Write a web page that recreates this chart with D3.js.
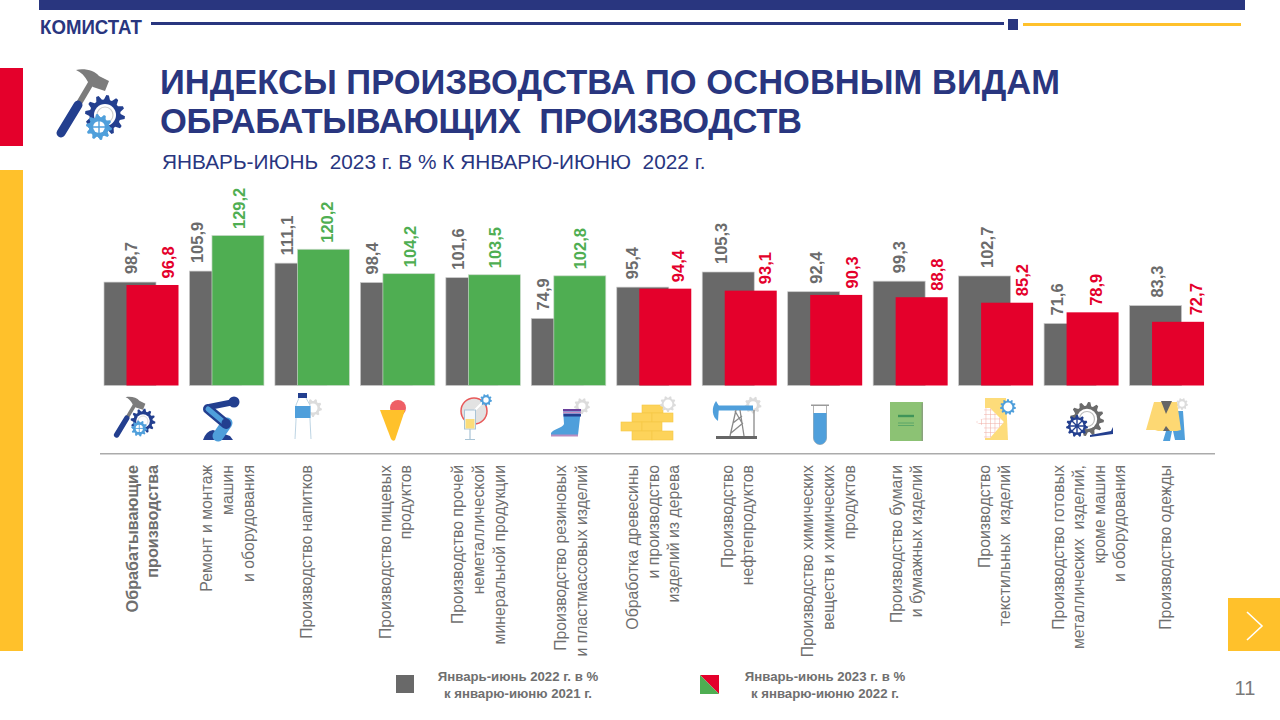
<!DOCTYPE html>
<html>
<head>
<meta charset="utf-8">
<script src="https://cdn.jsdelivr.net/npm/d3@7"></script>
<style>
  html, body { margin: 0; padding: 0; background: #fff; }
  svg { display: block; }
  text { font-family: "Liberation Sans", Arial, sans-serif; white-space: pre; }
</style>
</head>
<body>
<div id="chart"></div>
<script>
// data
var categories = [
  "Обрабатывающие производства", "Ремонт и монтаж машин и оборудования", "Производство напитков",
  "Производство пищевых продуктов", "Производство прочей неметаллической минеральной продукции",
  "Производство резиновых и пластмассовых изделий", "Обработка древесины и производство изделий из дерева",
  "Производство нефтепродуктов", "Производство химических веществ и химических продуктов",
  "Производство бумаги и бумажных изделий", "Производство текстильных изделий",
  "Производство готовых металлических изделий, кроме машин и оборудования", "Производство одежды"
];
var values2022 = [98.7, 105.9, 111.1, 98.4, 101.6, 74.9, 95.4, 105.3, 92.4, 99.3, 102.7, 71.6, 83.3];
var values2023 = [96.8, 129.2, 120.2, 104.2, 103.5, 102.8, 94.4, 93.1, 90.3, 88.8, 85.2, 78.9, 72.7];

var labelLines = [
  ["Обрабатывающие", "производства"],
  ["Ремонт и монтаж", "машин", "и оборудования"],
  ["Производство напитков"],
  ["Производство пищевых", "продуктов"],
  ["Производство прочей", "неметаллической", "минеральной продукции"],
  ["Производство резиновых", "и пластмассовых изделий"],
  ["Обработка древесины", "и производство", "изделий из дерева"],
  ["Производство", "нефтепродуктов"],
  ["Производство химических", "веществ и химических", "продуктов"],
  ["Производство бумаги", "и бумажных изделий"],
  ["Производство", "текстильных  изделий"],
  ["Производство готовых", "металлических  изделий,", "кроме машин", "и оборудования"],
  ["Производство одежды"]
];

var legendLeft = ["Январь-июнь 2022 г. в %", "к январю-июню 2021 г."];
var legendRight = ["Январь-июнь 2023 г. в %", "к январю-июню 2022 г."];

var navy = "#29367f", yellow = "#ffc12b", red = "#e4002b", green = "#4fae52", gray = "#696969", textGray = "#6f6f6f";
var blue = "#4f9fdb", dark = "#233f8f", pale = "#dcdcdc";

var svg = d3.select("#chart").append("svg").attr("width", 1280).attr("height", 720);

function rect(x, y, w, h, fill) {
  return svg.append("rect").attr("x", x).attr("y", y).attr("width", w).attr("height", h).attr("fill", fill);
}

function shape(d, fill) {
  return svg.append("path").attr("d", d).attr("fill", fill);
}

function stroke(d, colour, w, cap) {
  return svg.append("path").attr("d", d).attr("fill", "none").attr("stroke", colour)
    .attr("stroke-width", w).attr("stroke-linecap", cap || "butt");
}

function disc(cx, cy, r, fill) {
  return svg.append("circle").attr("cx", cx).attr("cy", cy).attr("r", r).attr("fill", fill);
}

// slide furniture
rect(39, 0, 1206, 10, navy);
rect(151, 22, 853, 3, navy);
rect(1008, 19, 10, 11, navy);
rect(1023, 23, 218, 3, yellow);
rect(0, 68, 23, 78, red);
rect(0, 170, 23, 481, yellow);
rect(1228, 598, 52, 53, yellow);
stroke("M1247 612 L1262 626 L1247 640", "#fff", 1.6);

svg.append("text").attr("x", 40).attr("y", 33.5).attr("fill", navy)
  .attr("font-weight", "bold").attr("font-size", 21).attr("textLength", 102)
  .attr("lengthAdjust", "spacingAndGlyphs").text("КОМИСТАТ");

svg.append("text").attr("x", 160).attr("y", 94).attr("fill", navy)
  .attr("font-weight", "bold").attr("font-size", 34.5).attr("textLength", 900)
  .text("ИНДЕКСЫ ПРОИЗВОДСТВА ПО ОСНОВНЫМ ВИДАМ");
svg.append("text").attr("x", 160).attr("y", 133).attr("fill", navy)
  .attr("font-weight", "bold").attr("font-size", 34.5).attr("textLength", 642)
  .text("ОБРАБАТЫВАЮЩИХ  ПРОИЗВОДСТВ");
svg.append("text").attr("x", 162).attr("y", 169).attr("fill", navy)
  .attr("font-size", 20.8).text("ЯНВАРЬ-ИЮНЬ  2023 г. В % К ЯНВАРЮ-ИЮНЮ  2022 г.");

svg.append("text").attr("x", 1245).attr("y", 695).attr("text-anchor", "middle")
  .attr("fill", "#7a7a7a").attr("font-size", 20).text("11");

// scales: the value axis of the original does not start at zero
var x = d3.scaleBand().domain(categories).range([104, 1215]);
var y = d3.scaleLinear().domain([31, 129.2]).range([385.5, 235.5]);
var barW = 52, shift = 22.5;

var rows = categories.map(function (c, i) {
  return { name: c, a: values2022[i], b: values2023[i], lines: labelLines[i], i: i };
});

var groups = svg.selectAll("g.cat").data(rows).enter().append("g").attr("class", "cat")
  .attr("transform", function (d) { return "translate(" + x(d.name) + ",0)"; });

groups.append("rect")
  .attr("x", 0).attr("width", barW)
  .attr("y", function (d) { return y(d.a); })
  .attr("height", function (d) { return y.range()[0] - y(d.a); })
  .attr("fill", gray).attr("stroke", "#c9c9c9").attr("stroke-width", 0.7);

function colourOf(v) { return v >= 100 ? green : red; }

groups.append("rect")
  .attr("x", shift).attr("width", barW)
  .attr("y", function (d) { return y(d.b); })
  .attr("height", function (d) { return y.range()[0] - y(d.b); })
  .attr("fill", function (d) { return colourOf(d.b); })
  .attr("stroke", function (d) { return d.b >= 100 ? "#c9d9c9" : "none"; })
  .attr("stroke-width", 0.7);

// value labels dodge each other, the lower series' label moves aside
var grayDx = [27, 8, 12, 12, 12, 12, 15, 19, 28, 26, 28, 12.5, 27.5];
var colDx = [64, 50, 52, 50, 49, 49, 61, 63, 64, 64, 63, 52, 66];

function valueLabel(key, dxArr, colour, gap) {
  groups.append("text")
    .attr("transform", function (d) {
      return "translate(" + (dxArr[d.i] + 6) + "," + (y(d[key]) - gap) + ") rotate(-90)";
    })
    .attr("font-size", 16.5).attr("font-weight", "bold")
    .attr("fill", function (d) { return colour(d[key]); })
    .text(function (d) { return d3.format(".1f")(d[key]).replace(".", ","); });
}
valueLabel("a", grayDx, function () { return "#6b6b6b"; }, 8);
valueLabel("b", colDx, colourOf, 6.5);

// category labels, read bottom-to-top and flush at the top
var labelCentre = [142.5, 227.5, 306, 395.5, 478.5, 571, 653, 737.5, 828.5, 906.5, 994.5, 1089, 1165];
var lineStep = 20.6;

rows.forEach(function (d) {
  d.lines.forEach(function (line, k) {
    var cx = labelCentre[d.i] + (k - (d.lines.length - 1) / 2) * lineStep;
    svg.append("text")
      .attr("transform", "translate(" + (cx + 5.5) + ",465) rotate(-90)")
      .attr("text-anchor", "end").attr("font-size", d.i === 0 ? 16.2 : 15.8)
      .attr("font-weight", d.i === 0 ? "bold" : "normal")
      .attr("fill", textGray).text(line);
  });
});

rect(100, 453, 1115, 1.5, "#ababab");

// legend
rect(396, 675, 18, 18, gray);
shape("M700 675 H719 V694 Z", red);
shape("M700 675 V694 H719 Z", green);

function legendText(lines, cx) {
  lines.forEach(function (t, k) {
    svg.append("text").attr("x", cx).attr("y", 681 + k * 16.5).attr("text-anchor", "middle")
      .attr("font-size", 13.2).attr("font-weight", "bold").attr("fill", textGray).text(t);
  });
}
legendText(legendLeft, 518);
legendText(legendRight, 825);

// --- icons ---
function gear(cx, cy, r, teeth, colour, hole) {
  var pts = [], i, a, n = teeth * 4;
  for (i = 0; i < n; i++) {
    a = (i + 0.5) / n * 2 * Math.PI;
    pts.push([cx + Math.cos(a) * (i % 4 < 2 ? r : r * 0.78), cy + Math.sin(a) * (i % 4 < 2 ? r : r * 0.78)]);
  }
  svg.append("path").attr("d", d3.line()(pts) + "Z").attr("fill", colour);
  disc(cx, cy, r * (hole || 0.5), "#fff");
}

function hammer(px, py, s) {
  var g = svg.append("g").attr("transform", "translate(" + px + "," + py + ") scale(" + s + ")");
  g.append("path").attr("d", "M23 37 L36 15").attr("stroke", "#7c7c7c").attr("stroke-width", 6);
  g.append("path").attr("d", "M6 65 L23 37").attr("stroke", dark).attr("stroke-width", 9).attr("stroke-linecap", "round");
  g.append("path").attr("d", "M21 2 C30 0 40 3 44 8 L54 13 L50 23 L38 19 L33 14 C30 8 26 4 21 2 Z").attr("fill", "#7c7c7c");
}

function gearPair(px, py, s) {
  gear(px, py, 20 * s, 12, dark, 0.55);
  svg.append("circle").attr("cx", px).attr("cy", py).attr("r", 8 * s).attr("fill", "none").attr("stroke", "#cfcfcf").attr("stroke-width", 1.2 * s);
  gear(px - 6 * s, py + 12 * s, 13 * s, 10, blue, 0.45);
  svg.append("path").attr("d", "M" + (px - 17 * s) + " " + (py + 12 * s) + " h" + 22 * s + " M" + (px - 6 * s) + " " + (py + 1 * s) + " v" + 22 * s)
    .attr("stroke", blue).attr("stroke-width", 1.4 * s);
}

// header icon
hammer(55, 68, 1);
gearPair(105, 115, 1);

// row of small icons
hammer(113, 396, 0.6);
gearPair(143, 421, 0.62);

// robot arm
shape("M203 440 Q206 431 213 430 L230 436 L233 440 Z", dark);
stroke("M227 423 L218 436", blue, 11, "round");
stroke("M209 407 L234 402", dark, 6);
disc(234, 402, 5.5, dark);
stroke("M208 409 L226 424", dark, 10, "round");
stroke("M208 409 L226 424", blue, 5, "round");
disc(226, 423, 4.5, dark);

// bottle + pale gear
gear(313, 408, 9, 9, pale, 0.5);
rect(298, 393, 9, 5, dark);
shape("M299 398 H306 L310 405 V420 L311 439 H295 L296 420 V405 Z", "#fff");
stroke("M299 398 L296 405 V420 L295 439 M306 398 L310 405 V420 L311 439", "#b5cfe0", 0.9);
rect(295, 406, 15.5, 12, blue);

// ice cream
disc(398, 408, 8, "#ee5f66");
shape("M380 410 H405 L395 440 Q393 442 391 439 Z", yellow);

// mirror, glass
disc(474, 411, 13, "#e2e2e2").attr("stroke", "#e85a5a").attr("stroke-width", 1.5);
stroke("M467 418 L483 402", "#fff", 2);
gear(486, 400, 6, 9, blue, 0.45);
rect(464.5, 410, 11, 19, "#f5f8fa").attr("stroke", "#a9c4d6");
rect(465.5, 419, 9, 9.5, "#fbdd7a");
stroke("M470 429 V439 M465 439.5 H475", "#a9c4d6", 1.2);

// boot
gear(582, 406, 8, 9, pale, 0.45);
shape("M563 409 H581 L578 435 H551 V433 C553 429 563 428 564 424 Z", blue);
rect(563, 409, 18, 2, "#6a3f9c");
rect(563, 411.5, 18, 2, "#c58bc0");
rect(563.5, 414, 17.5, 2.5, dark);
rect(551, 434.5, 27, 2, "#b98cc0");

// wood stack
var planks = svg.append("g").attr("fill", "#fdd35a").attr("stroke", "#f6c743").attr("stroke-width", 0.6);
[[642, 405, 21, 8], [632, 413, 20, 9], [652, 413, 21, 9], [621, 422, 21, 9], [642, 422, 20, 9], [632, 431, 20, 9], [652, 431, 21, 9]].forEach(function (p) {
  planks.append("rect").attr("x", p[0]).attr("y", p[1]).attr("width", p[2]).attr("height", p[3]);
});
gear(668, 404, 8, 9, pale, 0.55);

// pumpjack
gear(753, 405, 8.5, 9, pale, 0.45);
stroke("M716 408 H753", blue, 5);
shape("M716 401 C711 408 712 417 718 421 L719 406 Z", blue);
stroke("M736 410 L730 436 M740 410 L744 436 M733 423 L742 416 M731 433 L743 423 M735 411 L742 423 M754 410 V436", "#8a8a8a", 1.3);
rect(716, 436, 41, 3, "#666");

// test tube
stroke("M813.5 405 V438 A6.5 6.5 0 0 0 826.5 438 V405", "#aaa", 0.9);
shape("M813.5 413 H826.5 V438 A6.5 6.5 0 0 1 813.5 438 Z", blue);
rect(811, 404.5, 18, 1.5, "#9a9a9a");

// book
rect(890, 402, 33, 39, "#8cc274");
rect(921.5, 403, 1.5, 38, "#8aa27e");
stroke("M898 416 H914", "#3f9459", 2.4);
stroke("M898 423 H914 M898 425.5 H914", "#4f9f65", 0.8);

// textile
var defs = svg.append("defs");
defs.append("pattern").attr("id", "weave").attr("width", 4.5).attr("height", 4.5).attr("patternUnits", "userSpaceOnUse")
  .append("path").attr("d", "M0 0 H4.5 M0 0 V4.5").attr("stroke", "#f0a9a0").attr("stroke-width", 1);
shape("M985 398 H1006 L1008 440 H985 Z", "#fddc7a");
shape("M984 408 H990 L1004 422 L990 438 H984 L984 426 L975 422 L984 418 Z", "#fff");
shape("M984 408 H990 L1004 422 L990 438 H984 L984 426 L975 422 L984 418 Z", "url(#weave)");
gear(1008, 407, 8, 11, blue, 0.55);

// gears + horn
gear(1087, 419, 17, 12, "#6b6b6b", 0.6);
svg.append("circle").attr("cx", 1087).attr("cy", 419).attr("r", 7.5).attr("fill", "none").attr("stroke", "#bdbdbd").attr("stroke-width", 1.2);
shape("M1090 435 L1111 431 L1113 427 L1113 434 L1090 437 Z", dark);
gear(1077, 426, 11, 11, dark, 0.6);
stroke("M1068 426 H1086 M1077 417 V435 M1071 420 L1083 432 M1083 420 L1071 432", dark, 1.4);

// clothes
gear(1182, 404, 6, 9, pale, 0.45);
shape("M1172 411 H1183 L1185 440 H1175 L1173 431 H1172 L1170 441 H1163 Z", blue);
shape("M1154 402 H1177 L1181 430 L1177 431 H1158 L1155 430 L1146 430 Z", "#fdd873");
shape("M1161 401 H1172 L1166 414 Z", "#666");
shape("M1163 431 H1170 L1166 426 Z", "#666");
</script>
</body>
</html>
